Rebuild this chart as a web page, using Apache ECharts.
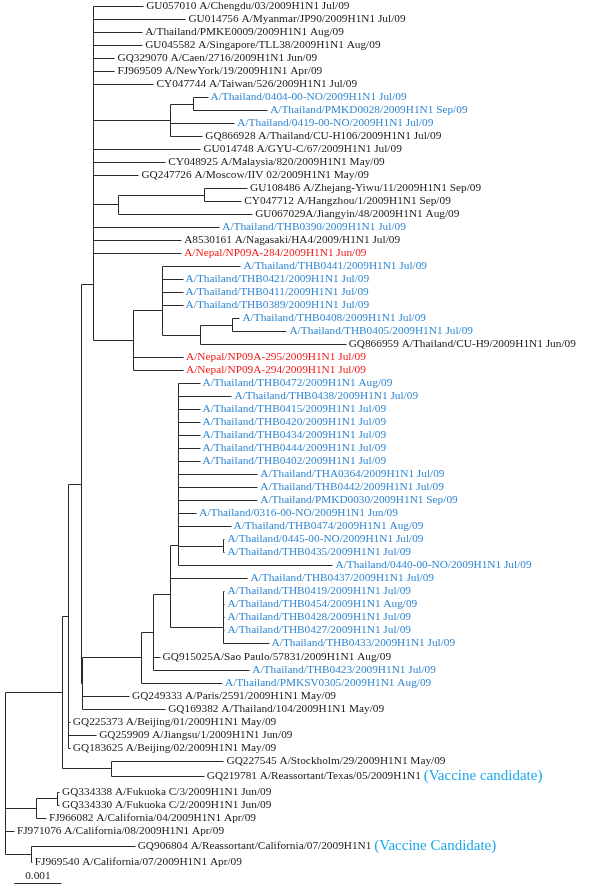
<!DOCTYPE html>
<html><head><meta charset="utf-8">
<script src="https://cdn.jsdelivr.net/npm/echarts@6/dist/echarts.min.js"></script>
<style>html,body{margin:0;padding:0;background:#fff}#c{width:600px;height:894px}</style>
</head><body><div id="c"></div>
<script>
// ---- taxa (leaf order top to bottom) ----
const taxa = [
 'GU057010 A/Chengdu/03/2009H1N1 Jul/09',
 'GU014756 A/Myanmar/JP90/2009H1N1 Jul/09',
 'A/Thailand/PMKE0009/2009H1N1 Aug/09',
 'GU045582 A/Singapore/TLL38/2009H1N1 Aug/09',
 'GQ329070 A/Caen/2716/2009H1N1 Jun/09',
 'FJ969509 A/NewYork/19/2009H1N1 Apr/09',
 'CY047744 A/Taiwan/526/2009H1N1 Jul/09',
 'A/Thailand/0404-00-NO/2009H1N1 Jul/09',
 'A/Thailand/PMKD0028/2009H1N1 Sep/09',
 'A/Thailand/0419-00-NO/2009H1N1 Jul/09',
 'GQ866928 A/Thailand/CU-H106/2009H1N1 Jul/09',
 'GU014748 A/GYU-C/67/2009H1N1 Jul/09',
 'CY048925 A/Malaysia/820/2009H1N1 May/09',
 'GQ247726 A/Moscow/IIV 02/2009H1N1 May/09',
 'GU108486 A/Zhejang-Yiwu/11/2009H1N1 Sep/09',
 'CY047712 A/Hangzhou/1/2009H1N1 Sep/09',
 'GU067029A/Jiangyin/48/2009H1N1 Aug/09',
 'A/Thailand/THB0390/2009H1N1 Jul/09',
 'A8530161 A/Nagasaki/HA4/2009/H1N1 Jul/09',
 'A/Nepal/NP09A-284/2009H1N1 Jun/09',
 'A/Thailand/THB0441/2009H1N1 Jul/09',
 'A/Thailand/THB0421/2009H1N1 Jul/09',
 'A/Thailand/THB0411/2009H1N1 Jul/09',
 'A/Thailand/THB0389/2009H1N1 Jul/09',
 'A/Thailand/THB0408/2009H1N1 Jul/09',
 'A/Thailand/THB0405/2009H1N1 Jul/09',
 'GQ866959 A/Thailand/CU-H9/2009H1N1 Jun/09',
 'A/Nepal/NP09A-295/2009H1N1 Jul/09',
 'A/Nepal/NP09A-294/2009H1N1 Jul/09',
 'A/Thailand/THB0472/2009H1N1 Aug/09',
 'A/Thailand/THB0438/2009H1N1 Jul/09',
 'A/Thailand/THB0415/2009H1N1 Jul/09',
 'A/Thailand/THB0420/2009H1N1 Jul/09',
 'A/Thailand/THB0434/2009H1N1 Jul/09',
 'A/Thailand/THB0444/2009H1N1 Jul/09',
 'A/Thailand/THB0402/2009H1N1 Jul/09',
 'A/Thailand/THA0364/2009H1N1 Jul/09',
 'A/Thailand/THB0442/2009H1N1 Jul/09',
 'A/Thailand/PMKD0030/2009H1N1 Sep/09',
 'A/Thailand/0316-00-NO/2009H1N1 Jun/09',
 'A/Thailand/THB0474/2009H1N1 Aug/09',
 'A/Thailand/0445-00-NO/2009H1N1 Jul/09',
 'A/Thailand/THB0435/2009H1N1 Jul/09',
 'A/Thailand/0440-00-NO/2009H1N1 Jul/09',
 'A/Thailand/THB0437/2009H1N1 Jul/09',
 'A/Thailand/THB0419/2009H1N1 Jul/09',
 'A/Thailand/THB0454/2009H1N1 Aug/09',
 'A/Thailand/THB0428/2009H1N1 Jul/09',
 'A/Thailand/THB0427/2009H1N1 Jul/09',
 'A/Thailand/THB0433/2009H1N1 Jul/09',
 'GQ915025A/Sao Paulo/57831/2009H1N1 Aug/09',
 'A/Thailand/THB0423/2009H1N1 Jul/09',
 'A/Thailand/PMKSV0305/2009H1N1 Aug/09',
 'GQ249333 A/Paris/2591/2009H1N1 May/09',
 'GQ169382 A/Thailand/104/2009H1N1 May/09',
 'GQ225373 A/Beijing/01/2009H1N1 May/09',
 'GQ259909 A/Jiangsu/1/2009H1N1 Jun/09',
 'GQ183625 A/Beijing/02/2009H1N1 May/09',
 'GQ227545 A/Stockholm/29/2009H1N1 May/09',
 'GQ219781 A/Reassortant/Texas/05/2009H1N1',
 'GQ334338 A/Fukuoka C/3/2009H1N1 Jun/09',
 'GQ334330 A/Fukuoka C/2/2009H1N1 Jun/09',
 'FJ966082 A/California/04/2009H1N1 Apr/09',
 'FJ971076 A/California/08/2009H1N1 Apr/09',
 'GQ906804 A/Reassortant/California/07/2009H1N1',
 'FJ969540 A/California/07/2009H1N1 Apr/09'
];
// r = reference, t = Thai isolate, n = Nepal isolate
const taxonGroup = [
 'r','r','r','r','r','r','r','t','t','t','r','r','r','r','r','r','r','t','r','n',
 't','t','t','t','t','t','r','n','n','t','t','t','t','t','t','t','t','t','t','t',
 't','t','t','t','t','t','t','t','t','t','r','t','t','r','r','r','r','r','r','r',
 'r','r','r','r','r','r'
];
const noteRows = [59, 64];
const noteTexts = ['(Vaccine candidate)', '(Vaccine Candidate)'];

// ---- tree: leaf -> parent node, branch length (substitutions/site) ----
const leafParent = [
 'P0','P0','P0','P0','P0','P0','P0',
 'R','R','Q','Q',
 'P0','P0','P0',
 'T','T','S',
 'P1','P2','P3',
 'N1','N1','N1','N1',
 'V','V','U',
 'Q2','Q2',
 'L4','L4','L4','L4','L4','L4','L4',
 'L4','L4','L4','L3','L2',
 'N2','N2','L',
 'J1','M1','M1','M1','M1','M',
 'K','K','I',
 'H','H',
 'B','B','B',
 'C','C',
 'F2','F2','F','root',
 'G','G'
];
const leafLength = [
 0.00106,0.00196,0.00104,0.00104,0.00045,0.00045,0.00128,
 0.00030,0.00157,0.00136,0.00068,
 0.00228,0.00153,0.00096,
 0.00091,0.00079,0.00285,
 0.00268,0.00187,0.00187,
 0.00166,0.00043,0.00043,0.00043,
 0.00015,0.00115,0.00311,
 0.00106,0.00106,
 0.00045,0.00113,0.00045,0.00045,0.00045,0.00045,0.00045,
 0.00168,0.00168,0.00168,0.00038,0.00111,
 0.00004,0.00004,0.00328,
 0.00164,0.00004,0.00004,0.00004,0.00004,0.00098,
 0.00013,0.00204,0.00172,
 0.00100,0.00177,
 0.00004,0.00060,0.00004,
 0.00240,0.00198,
 0.00004,0.00004,0.00021,0.00019,
 0.00221,0.00002
];
// internal nodes (zero-length ones resolve ladders as drawn)
const nodeNames  = ['A','B','C','D','P','P3','P2','P1','P0','Q','R','S','T','Q2','N','N1','U','V',
                    'H','I','K','J','J1','L','L1','L2','L3','L4','N2','M','M1','F','F2','G'];
const nodeParent = ['root','A','A','B','D','P','P3','P2','P1','P0','Q','P0','S','P','Q2','N','N','U',
                    'D','H','I','K','J','J1','L','L1','L2','L3','L1','J','M','root','F','root'];
const nodeLength = [0.00121,0.00013,0.00104,0.00028,0.00026,0,0,0,0,0.00164,0.00049,0.00053,0.00183,0.00085,0.00062,0,0.00079,0.00070,
                    0.00002,0.00126,0.00026,0.00036,0,0.00017,0,0,0,0,0.00094,0.00111,0,0.00066,0.00045,0.00055];
const scaleBarLength = 0.001;
const scaleBarLabel = '0.001';

// ---- layout computation ----
function rowPos(i){
  let p = i;
  noteRows.forEach(n => { if (n < i) p += 0.4; else if (n === i) p += 0.2; });
  return p;
}
const depthCache = {root: 0};
function depth(name){
  if (depthCache[name] !== undefined) return depthCache[name];
  const k = nodeNames.indexOf(name);
  return depthCache[name] = depth(nodeParent[k]) + nodeLength[k];
}
const yCache = {};
function childrenOf(name){
  const ch = [];
  leafParent.forEach((p, i) => { if (p === name) ch.push({x: depth(p) + leafLength[i], y: rowPos(i)}); });
  nodeNames.forEach((nm, k) => { if (nodeParent[k] === name) ch.push({x: depth(nm), y: nodeY(nm)}); });
  return ch;
}
function nodeY(name){
  if (yCache[name] !== undefined) return yCache[name];
  const ys = childrenOf(name).map(c => c.y);
  return yCache[name] = (Math.min(...ys) + Math.max(...ys)) / 2;
}
const segments = [];
['root'].concat(nodeNames).forEach(name => {
  const ch = childrenOf(name);
  const x0 = depth(name);
  const ys = ch.map(c => c.y);
  segments.push([x0, Math.min(...ys), x0, Math.max(...ys)]);
  ch.forEach(c => { if (c.x > x0) segments.push([x0, c.y, c.x, c.y]); });
});
const leafData = taxa.map((t, i) => [depth(leafParent[i]) + leafLength[i], rowPos(i), i]);

const colors = {r: '#1a1a1a', t: '#2f86d2', n: '#f01818'};
const FONT = '11.3px "Liberation Serif", "Times New Roman", serif';

const chart = echarts.init(document.getElementById('c'), null, {renderer: 'canvas'});
chart.setOption({
  animation: false,
  backgroundColor: '#fff',
  grid: {left: 5, right: 3, top: 6, bottom: 894 - 6 - 68 * 13.01},
  xAxis: {type: 'value', min: 0, max: 0.0126, show: false},
  yAxis: {type: 'value', min: 0, max: 68, inverse: true, show: false},
  series: [
    {
      type: 'custom', coordinateSystem: 'cartesian2d', silent: true,
      data: segments,
      renderItem: function(params, api){
        const a = api.coord([api.value(0), api.value(1)]);
        const b = api.coord([api.value(2), api.value(3)]);
        return {type: 'line', shape: {x1: Math.round(a[0]) + 0.5, y1: Math.round(a[1]) + 0.5, x2: Math.round(b[0]) + 0.5, y2: Math.round(b[1]) + 0.5},
          style: {stroke: '#2a2a2a', lineWidth: 1}};
      }
    },
    {
      type: 'custom', coordinateSystem: 'cartesian2d', silent: true,
      data: leafData,
      renderItem: function(params, api){
        const i = api.value(2);
        const p = api.coord([api.value(0), api.value(1)]);
        const ni = noteRows.indexOf(i);
        const style = {x: p[0] + 3, y: Math.round(p[1]) + 0.5, verticalAlign: 'middle', fill: colors[taxonGroup[i]], font: FONT};
        if (ni >= 0) {
          style.text = '{a|' + taxa[i] + '} {b|' + noteTexts[ni] + '}';
          style.rich = {a: {font: FONT, fill: colors[taxonGroup[i]]}, b: {font: '15px "Liberation Serif", "Times New Roman", serif', fill: '#1aa8ec'}};
        } else {
          style.text = taxa[i];
        }
        return {type: 'text', style: style};
      }
    },
    {
      type: 'custom', coordinateSystem: 'cartesian2d', silent: true,
      data: [[0.0002, 67.38]],
      renderItem: function(params, api){
        const x0 = api.value(0), yv = api.value(1);
        const a = api.coord([x0, yv]);
        const b = api.coord([x0 + scaleBarLength, yv]);
        return {type: 'group', children: [
          {type: 'line', shape: {x1: a[0], y1: Math.round(a[1]) + 0.5, x2: b[0], y2: Math.round(a[1]) + 0.5}, style: {stroke: '#2a2a2a', lineWidth: 1}},
          {type: 'text', style: {text: scaleBarLabel, x: (a[0] + b[0]) / 2, y: a[1] - 7, align: 'center', verticalAlign: 'middle', font: FONT, fill: '#1a1a1a'}}
        ]};
      }
    }
  ]
});
</script>
</body></html>
